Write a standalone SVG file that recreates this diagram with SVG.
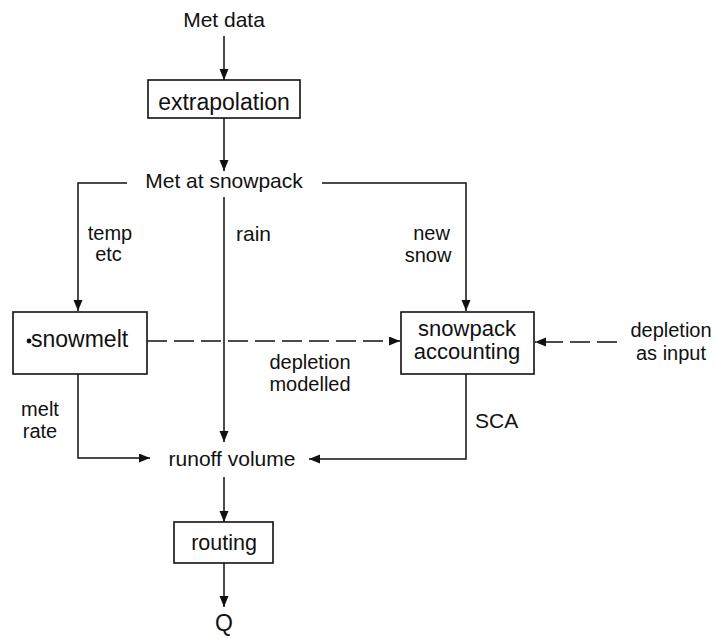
<svg xmlns="http://www.w3.org/2000/svg" width="717" height="638" viewBox="0 0 717 638">
<style>
  text { font-family: "Liberation Sans", Arial, Helvetica, sans-serif; fill: #111; }
  .lbl { font-size: 21px; }
  .lbl2 { font-size: 20px; }
  .box-text { font-size: 23px; }
  .box { fill: #fff; stroke: #111; stroke-width: 1.6; }
  .conn { fill: none; stroke: #111; stroke-width: 1.5; }
  .dash { stroke-dasharray: 20 7; }
</style>
<defs>
  <marker id="arrow" markerUnits="userSpaceOnUse" markerWidth="12" markerHeight="10" refX="11" refY="4.5" orient="auto">
    <path d="M0,0 L11,4.5 L0,9 z" fill="#111"/>
  </marker>
</defs>
<rect width="717" height="638" fill="#fff"/>

<g id="connectors">
  <line class="conn" x1="224" y1="36" x2="224" y2="80" marker-end="url(#arrow)"/>
  <line class="conn" x1="224" y1="118" x2="224" y2="171" marker-end="url(#arrow)"/>
  <polyline class="conn" points="127,183 78,183 78,311" marker-end="url(#arrow)"/>
  <polyline class="conn" points="322,183 466,183 466,311" marker-end="url(#arrow)"/>
  <line class="conn" x1="224" y1="197" x2="224" y2="442" marker-end="url(#arrow)"/>
  <line class="conn dash" x1="147" y1="341" x2="400" y2="341" marker-end="url(#arrow)"/>
  <line class="conn dash" x1="617" y1="342" x2="535" y2="342" marker-end="url(#arrow)"/>
  <polyline class="conn" points="78,374 78,458 150,458" marker-end="url(#arrow)"/>
  <polyline class="conn" points="466,374 466,459 309,459" marker-end="url(#arrow)"/>
  <line class="conn" x1="224" y1="477" x2="224" y2="522" marker-end="url(#arrow)"/>
  <line class="conn" x1="224" y1="563" x2="224" y2="607" marker-end="url(#arrow)"/>
</g>

<g id="met-data">
  <text class="lbl" x="224" y="27" text-anchor="middle">Met data</text>
</g>
<g id="extrapolation">
  <rect class="box" x="148" y="80" width="152" height="38"/>
  <text class="box-text" x="224" y="110" text-anchor="middle">extrapolation</text>
</g>
<g id="met-at-snowpack">
  <text class="lbl" x="224" y="188" text-anchor="middle">Met at snowpack</text>
</g>
<g id="snowmelt">
  <rect class="box" x="13" y="312" width="134" height="62"/>
  <circle cx="29" cy="341" r="2.4" fill="#111"/>
  <text class="box-text" x="31" y="347" font-size="22.5">snowmelt</text>
</g>
<g id="snowpack-accounting">
  <rect class="box" x="401" y="312" width="133" height="62"/>
  <text x="467" y="336" text-anchor="middle" font-size="22">snowpack</text>
  <text x="467" y="359" text-anchor="middle" font-size="22">accounting</text>
</g>
<g id="runoff-volume">
  <text class="lbl" x="232" y="466" text-anchor="middle">runoff volume</text>
</g>
<g id="routing">
  <rect class="box" x="174" y="522" width="99" height="41"/>
  <text x="224" y="550" text-anchor="middle" font-size="21.5">routing</text>
</g>
<g id="q">
  <text x="224" y="631" text-anchor="middle" font-size="23">Q</text>
</g>

<g id="labels">
  <text class="lbl2" x="110" y="240" text-anchor="middle">temp</text>
  <text class="lbl2" x="108.5" y="261" text-anchor="middle">etc</text>
  <text class="lbl" x="236" y="241">rain</text>
  <text class="lbl2" x="431.5" y="240" text-anchor="middle">new</text>
  <text class="lbl2" x="428" y="262" text-anchor="middle">snow</text>
  <text class="lbl2" x="310" y="369" text-anchor="middle">depletion</text>
  <text class="lbl2" x="310" y="391" text-anchor="middle">modelled</text>
  <text class="lbl2" x="671" y="337" text-anchor="middle">depletion</text>
  <text class="lbl2" x="671" y="360" text-anchor="middle">as input</text>
  <text class="lbl2" x="40" y="416" text-anchor="middle">melt</text>
  <text class="lbl2" x="40" y="438" text-anchor="middle">rate</text>
  <text class="lbl" x="475" y="428">SCA</text>
</g>
</svg>
